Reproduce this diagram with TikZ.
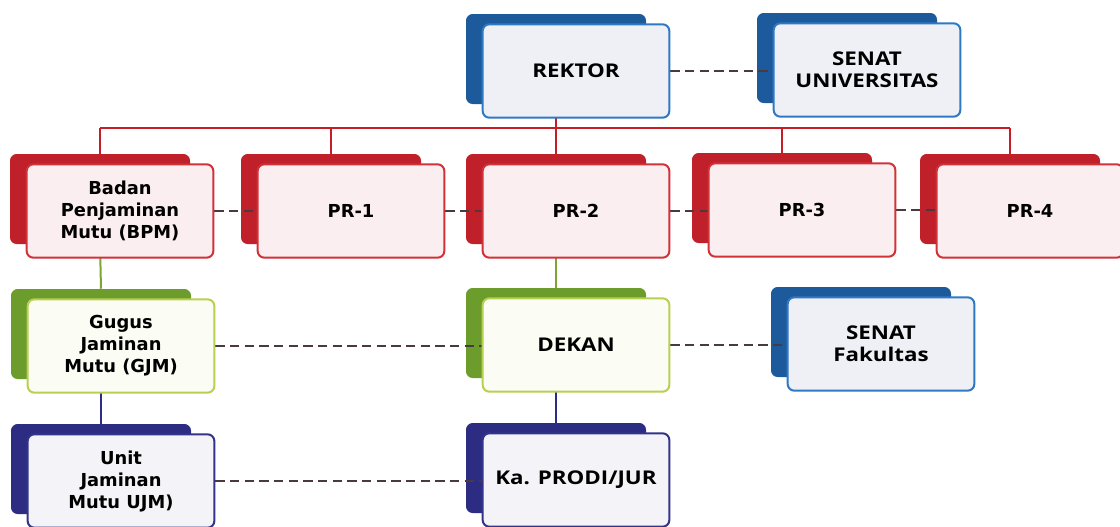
\documentclass[tikz,border=0pt]{standalone}
\usepackage{fontspec}
\setmainfont{DejaVu Sans}
\newfontfamily\fvb{DejaVu Sans}
\newfontfamily\fob{Open Sans}[FakeStretch=1.18]
\pgfdeclarelayer{bottom}
\pgfdeclarelayer{bg}
\pgfdeclarelayer{fg}
\pgfsetlayers{bottom,bg,main,fg}
\definecolor{blueback}{HTML}{1D5A9C}
\definecolor{blueedge}{HTML}{2F78C4}
\definecolor{bluefill}{HTML}{EEF0F5}
\definecolor{redback}{HTML}{C0202A}
\definecolor{rededge}{HTML}{D03238}
\definecolor{redfill}{HTML}{FBEEF1}
\definecolor{greenback}{HTML}{6C9C2C}
\definecolor{greenedge}{HTML}{B8D050}
\definecolor{greenfill}{HTML}{FBFCF4}
\definecolor{navyback}{HTML}{2C2C82}
\definecolor{navyedge}{HTML}{33338A}
\definecolor{navyfill}{HTML}{F4F4F8}
\definecolor{dashcol}{HTML}{4A3A40}
\tikzset{
  front/.style={draw, line width=1.5pt, rounded corners=5pt, minimum width=140pt, minimum height=70pt, align=center, inner sep=2pt},
  back/.style={rounded corners=5pt, minimum width=135pt, minimum height=67.5pt},
  bluefront/.style={front, draw=blueedge, fill=bluefill},
  blueback/.style={back, fill=blueback},
  redfront/.style={front, draw=rededge, fill=redfill},
  redback/.style={back, fill=redback},
  greenfront/.style={front, draw=greenedge, fill=greenfill},
  greenback/.style={back, fill=greenback},
  navyfront/.style={front, draw=navyedge, fill=navyfill},
  navyback/.style={back, fill=navyback},
  ftA/.style={font=\fob\bfseries\fontsize{14.2}{16.5}\selectfont},
  ftB/.style={font=\fvb\bfseries\fontsize{13.4}{16.5}\selectfont},
  redline/.style={draw=redback!90!red, line width=1.5pt},
  greenline/.style={draw=greenback!80!greenedge, line width=1.5pt},
  navyline/.style={draw=navyback, line width=1.5pt},
  dashline/.style={draw=dashcol, line width=1.5pt, dash pattern=on 7pt off 4pt},
}
\newcommand\card[6]{%
  \begin{pgfonlayer}{fg}\node[#4front, #5] (#1) at (#2,#3) {#6};\end{pgfonlayer}%
  \begin{pgfonlayer}{bg}\node[#4back] (#1-b) at (#2-20,#3-12) {};\end{pgfonlayer}%
}
\begin{document}
\begin{tikzpicture}[x=0.75pt,y=-0.75pt]
\begin{pgfonlayer}{bottom}
\fill[white] (0,0) rectangle (1120,526);
\end{pgfonlayer}
\useasboundingbox (0,0) rectangle (1120,526);
\card{rektor}{576}{71}{blue}{ftA}{REKTOR}
\card{senatu}{867}{70}{blue}{ftA}{SENAT\\UNIVERSITAS}
\card{bpm}{120}{211}{red}{ftB}{Badan\\Penjaminan\\Mutu (BPM)}
\card{pr1}{351}{211}{red}{ftB}{PR-1}
\card{pr2}{576}{211}{red}{ftB}{PR-2}
\card{pr3}{802}{210}{red}{ftB}{PR-3}
\card{pr4}{1030}{211}{red}{ftB}{PR-4}
\card{gjm}{121}{346}{green}{ftB}{Gugus\\Jaminan\\Mutu (GJM)}
\card{dekan}{576}{345}{green}{ftA}{DEKAN}
\card{senatf}{881}{344}{blue}{ftA}{SENAT\\Fakultas}
\card{ujm}{121}{481}{navy}{ftB}{Unit\\Jaminan\\Mutu UJM)}
\card{kaprodi}{576}{480}{navy}{ftA}{Ka. PRODI/JUR}
\coordinate (bar) at (0,128);
\draw[redline] (rektor-b.south) -- (rektor-b.south |- bar);
\draw[redline] (bpm-b.north |- bar) -- (pr4-b.north |- bar);
\foreach \n in {bpm,pr1,pr2,pr3,pr4}{\draw[redline] (\n-b.north |- bar) -- (\n-b.north);}
\draw[greenline] (bpm-b.south) -- (gjm-b.north);
\draw[navyline] (gjm-b.south) -- (ujm-b.north);
\draw[greenline] (pr2-b.south) -- (dekan-b.north);
\draw[navyline] (dekan-b.south) -- (kaprodi-b.north);
\draw[dashline] (rektor.east) -- (rektor.east -| senatu.west);
\draw[dashline] (bpm.east) -- (bpm.east -| pr1.west);
\draw[dashline] (pr1.east) -- (pr1.east -| pr2.west);
\draw[dashline] (pr2.east) -- (pr2.east -| pr3.west);
\draw[dashline] (pr3.east) -- (pr3.east -| pr4.west);
\draw[dashline] (gjm.east) -- (gjm.east -| dekan.west);
\draw[dashline] (dekan.east) -- (dekan.east -| senatf.west);
\draw[dashline] (ujm.east) -- (ujm.east -| kaprodi.west);
\end{tikzpicture}
\end{document}
